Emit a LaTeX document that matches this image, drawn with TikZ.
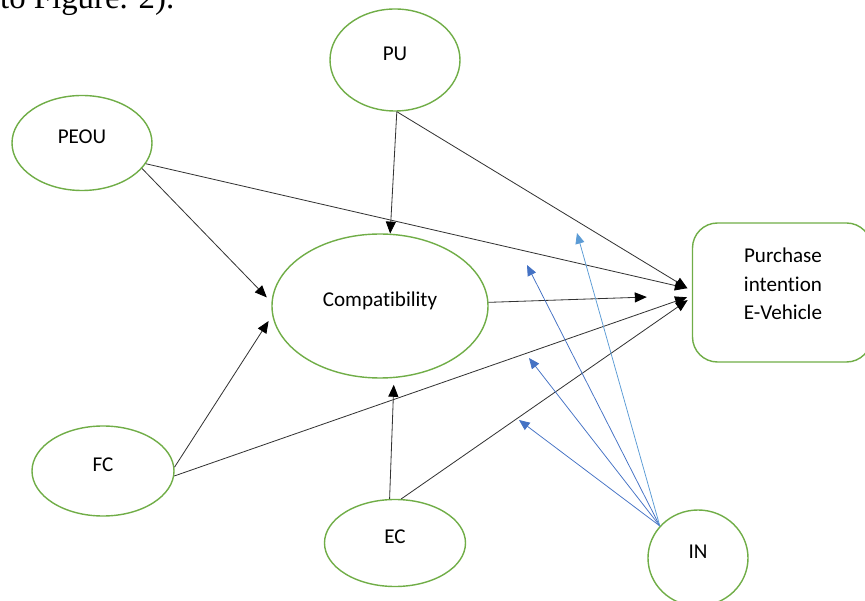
\documentclass[tikz,border=0pt]{standalone}
\usepackage{fontspec}
\setmainfont{Carlito}[Ligatures=NoCommon]
\newfontfamily\capfont{Liberation Serif}
\usetikzlibrary{shapes.geometric, arrows.meta}
\definecolor{grn}{HTML}{70AD47}
\definecolor{blu}{HTML}{4472C4}
\definecolor{lblu}{HTML}{5B9BD5}

\begin{document}
\begin{tikzpicture}[
  x=0.03cm, y=-0.03cm,
  var/.style={draw=grn, line width=1.2pt, ellipse, inner sep=0pt,
    font=\fontsize{18}{21}\selectfont, text height=0.4cm, text depth=0.35cm},
  blk/.style={-{Triangle[length=0.36cm,width=0.3cm,color=black]}, line width=0.7pt, black!80},
  bl/.style={-{Triangle[length=0.32cm,width=0.27cm]}, line width=0.65pt, blu},
]
\useasboundingbox (0,0) rectangle (865,601);
\clip (0,0) rectangle (865,601);

\node[anchor=base west, inner sep=0pt, font=\capfont\fontsize{28}{30}\selectfont] (cap) at (0,9) {to Figure. 2).};

\node[var, minimum width=3.9cm, minimum height=3.06cm] (PU) at (395,60) {PU};
\node[var, minimum width=4.2cm, minimum height=2.85cm] (PEOU) at (82,143) {PEOU};
\node[var, minimum width=6.48cm, minimum height=4.32cm] (C) at (380,306) {Compatibility};
\node[var, minimum width=4.26cm, minimum height=2.7cm] (FC) at (103,471) {FC};
\node[var, minimum width=4.23cm, minimum height=2.61cm] (EC) at (395,543) {EC};
\node[var, minimum width=3cm, minimum height=2.88cm] (IN) at (698,558) {IN};
\node[draw=grn, line width=1.2pt, rounded corners=0.75cm, minimum width=5.37cm, minimum height=4.17cm] (PI) at (782,292.5) {};
\node[align=center, font=\fontsize{18}{24.5}\selectfont] (PItext) at (783,284) {Purchase\\intention\\E-Vehicle};

% free ends of the moderating arrows
\coordinate (m1) at (519,420);
\coordinate (m2) at (529,358);
\coordinate (m3) at (527,265);
\coordinate (m4) at (577,233);

\draw[blk, shorten >=0.2cm] (PEOU.-23) -- (C.178.5);
\draw[blk, shorten >=0.15cm] (PEOU.-18) -- (PI.178);
\draw[blk] (PU.-88) -- (C.82);
\draw[blk, shorten >=0.15cm] (PU.-88) -- (PI.179);
\draw[blk, shorten >=1.35cm] (C) -- (PI);
\draw[blk, shorten >=0.2cm] (FC.3) -- (C.185);
\draw[blk, shorten >=0.15cm] (FC.-4) -- (PI.182);
\draw[blk, shorten >=0.2cm] (EC.97) -- (C.-79);
\draw[blk, shorten >=0.15cm] (EC.82) -- (PI.183);

\draw[bl] (IN.140) -- (m1);
\draw[bl] (IN.140) -- (m2);
\draw[bl] (IN.140) -- (m3);
\draw[bl, lblu] (IN.140) -- (m4);

\end{tikzpicture}
\end{document}
